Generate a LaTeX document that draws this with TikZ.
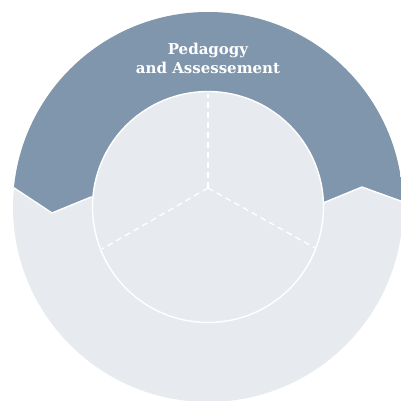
\documentclass[tikz,border=0pt]{standalone}
\usepackage{fontspec}
\newfontfamily\labelfont{DejaVu Serif}
\definecolor{bandblue}{RGB}{127,150,172}
\definecolor{lightgray}{RGB}{231,235,239}
\begin{document}
\begin{tikzpicture}[x=1pt,y=-1pt,
  sep/.style={white,line width=1.4pt},
  spoke/.style={white,line width=1.3pt,dash pattern=on 6pt off 4pt}]
\useasboundingbox (0,0) rectangle (401,401);
\coordinate (c) at (208,207);
\coordinate (y) at (208,188);
\fill[lightgray] (c) circle (195);
\begin{scope}
  \clip (c) circle (195);
  \fill[bandblue] (-10,-10) -- (420,-10) -- (420,208) -- (362,187) -- (323,203) -- (91,197) -- (52,213) -- (-10,172) -- cycle;
  \draw[sep] (420,208) -- (362,187) -- (323,203) -- (91,197) -- (52,213) -- (-10,172);
\end{scope}
\node[circle,minimum size=231pt,inner sep=0pt,fill=lightgray,draw=white,line width=1.4pt] (inner) at (c) {};
\draw[spoke] (y) -- (208,94);
\draw[spoke] (y) -- (102,249);
\draw[spoke] (y) -- (315,248);
\node[text=white,font=\labelfont\bfseries\fontsize{15}{19}\selectfont,align=center] (title) at (208,58) {Pedagogy\\and Assessement};
\end{tikzpicture}
\end{document}
